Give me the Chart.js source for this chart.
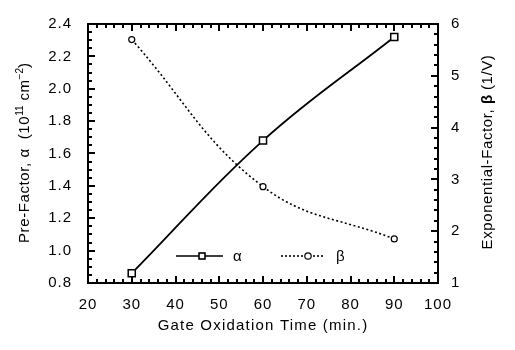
<!DOCTYPE html>
<html>
<head>
<meta charset="utf-8">
<script src="https://cdn.jsdelivr.net/npm/chart.js@4.4.1/dist/chart.umd.min.js"></script>
<style>
  html, body { margin: 0; padding: 0; background: #fff; }
  #chart { display: block; }
</style>
</head>
<body>
<canvas id="chart" width="515" height="350"></canvas>
<script>
// Datos
const times = [30, 60, 90];
const alphaVals = [0.86, 1.68, 2.32];
const betaVals = [5.70, 2.86, 1.85];

// Etiquetas de los ejes
const xTicks = [20, 30, 40, 50, 60, 70, 80, 90, 100];
const leftTicks = [0.8, 1.0, 1.2, 1.4, 1.6, 1.8, 2.0, 2.2, 2.4];
const rightTicks = [1, 2, 3, 4, 5, 6];

const FONT = "'Liberation Sans', Arial, Helvetica, sans-serif";

// Marco negro y marcas hacia dentro en los cuatro lados
const frameTicks = {
  id: "frameTicks",
  beforeDraw(chart) {
    chart.ctx.letterSpacing = "1px";
  },
  afterDatasetsDraw(chart) {
    const { ctx, chartArea: a, scales } = chart;
    ctx.save();
    ctx.strokeStyle = "#000";
    ctx.lineWidth = 2;
    ctx.strokeRect(a.left, a.top, a.right - a.left, a.bottom - a.top);

    const line = (x1, y1, x2, y2) => {
      ctx.beginPath();
      ctx.moveTo(x1, y1);
      ctx.lineTo(x2, y2);
      ctx.stroke();
    };
    const withMinor = (ticks, n) => {
      const out = [];
      for (let i = 0; i < ticks.length; i++) {
        out.push({ v: ticks[i], major: true });
        if (i < ticks.length - 1) {
          const step = (ticks[i + 1] - ticks[i]) / n;
          for (let k = 1; k < n; k++) out.push({ v: ticks[i] + step * k, major: false });
        }
      }
      return out;
    };

    withMinor(xTicks, 5).forEach((t) => {
      const x = Math.round(scales.x.getPixelForValue(t.v));
      const len = t.major ? 7 : 4;
      line(x, a.bottom, x, a.bottom - len);
      line(x, a.top, x, a.top + len);
    });
    withMinor(leftTicks, 4).forEach((t) => {
      const y = Math.round(scales.y.getPixelForValue(t.v));
      line(a.left, y, a.left + (t.major ? 7 : 4), y);
    });
    withMinor(rightTicks, 5).forEach((t) => {
      const y = Math.round(scales.y2.getPixelForValue(t.v));
      line(a.right, y, a.right - (t.major ? 7 : 4), y);
    });
    ctx.restore();
  },
  afterDraw(chart) {
    const { ctx, chartArea: a } = chart;
    ctx.save();
    ctx.fillStyle = "#000";
    ctx.strokeStyle = "#000";

    // Títulos de los ejes (con superíndices)
    const rich = (parts, cx, cy, rot) => {
      ctx.save();
      ctx.translate(cx, cy);
      ctx.rotate(rot);
      ctx.textAlign = "left";
      ctx.textBaseline = "alphabetic";
      const widths = parts.map((p) => {
        ctx.font = p.font;
        ctx.letterSpacing = "0px";
        return ctx.measureText(p.t).width + (p.ls || 0) * p.t.length;
      });
      const w = widths.reduce((s, v) => s + v, 0);
      let x = -w / 2;
      parts.forEach((p, i) => {
        ctx.font = p.font;
        ctx.letterSpacing = (p.ls || 0) + "px";
        ctx.fillText(p.t, x, p.dy || 0);
        x += widths[i];
      });
      ctx.restore();
    };
    const f15 = "15px " + FONT;
    const f10 = "10px " + FONT;
    rich([{ t: "Gate Oxidation Time (min.)", font: f15, ls: 1.2 }], (a.left + a.right) / 2, 330, 0);
    rich([
      { t: "Pre-Factor, ", font: f15, ls: 0.6 },
      { t: "α", font: f15 },
      { t: "  (10", font: f15, ls: 0.6 },
      { t: "11", font: f10, dy: -6 },
      { t: " cm", font: f15, ls: 0.6 },
      { t: "−2", font: f10, dy: -6 },
      { t: ")", font: f15 },
    ], 29, 153, -Math.PI / 2);
    rich([
      { t: "Exponential-Factor, ", font: f15, ls: 0.6 },
      { t: "β", font: "bold 15px " + FONT },
      { t: " (1/V)", font: f15, ls: 0.6 },
    ], 492, 152, -Math.PI / 2);

    // Leyenda dentro del área del gráfico
    const ly = a.bottom - 27;
    ctx.lineWidth = 1.6;
    ctx.setLineDash([]);
    ctx.beginPath(); ctx.moveTo(a.left + 88, ly); ctx.lineTo(a.left + 135, ly); ctx.stroke();
    ctx.fillStyle = "#fff";
    ctx.fillRect(a.left + 111, ly - 3, 6, 6);
    ctx.strokeRect(a.left + 111, ly - 3, 6, 6);
    ctx.setLineDash([2, 2]);
    ctx.beginPath(); ctx.moveTo(a.left + 193, ly); ctx.lineTo(a.left + 237, ly); ctx.stroke();
    ctx.setLineDash([]);
    ctx.lineWidth = 1.2;
    ctx.beginPath(); ctx.arc(a.left + 220, ly, 3.2, 0, Math.PI * 2); ctx.fill(); ctx.stroke();
    ctx.fillStyle = "#000";
    ctx.font = f15;
    ctx.letterSpacing = "0px";
    ctx.textBaseline = "middle";
    ctx.fillText("α", a.left + 145, ly + 1);
    ctx.fillText("β", a.left + 248, ly + 1);
    ctx.restore();
  },
};

const tickFont = { family: FONT, size: 15 };

new Chart(document.querySelector("#chart"), {
  type: "line",
  data: {
    datasets: [
      {
        label: "α",
        data: times.map((x, i) => ({ x, y: alphaVals[i] })),
        yAxisID: "y",
        borderColor: "#000",
        borderWidth: 1.8,
        tension: 0.4,
        pointStyle: "rect",
        pointRadius: 5,
        pointBorderWidth: 1.5,
        pointBackgroundColor: "#fff",
        pointBorderColor: "#000",
      },
      {
        label: "β",
        data: times.map((x, i) => ({ x, y: betaVals[i] })),
        yAxisID: "y2",
        borderColor: "#000",
        borderWidth: 1.6,
        borderDash: [2, 2.5],
        tension: 0.4,
        pointStyle: "circle",
        pointRadius: 3,
        pointBorderWidth: 1.2,
        pointBackgroundColor: "#fff",
        pointBorderColor: "#000",
      },
    ],
  },
  options: {
    responsive: false,
    animation: false,
    layout: { padding: { top: 24, left: 0, right: 0, bottom: 0 } },
    plugins: { legend: { display: false }, tooltip: { enabled: false } },
    scales: {
      x: {
        type: "linear",
        min: 20,
        max: 100,
        afterBuildTicks: (s) => { s.ticks = xTicks.map((v) => ({ value: v })); },
        afterFit: (s) => { s.height = 67; },
        grid: { display: false },
        border: { display: false },
        ticks: { font: tickFont, color: "#000", padding: 5, maxRotation: 0 },
      },
      y: {
        position: "left",
        min: 0.8,
        max: 2.4,
        afterBuildTicks: (s) => { s.ticks = leftTicks.map((v) => ({ value: v })); },
        afterFit: (s) => { s.width = 88; },
        grid: { display: false },
        border: { display: false },
        ticks: { font: tickFont, color: "#000", padding: 8, callback: (v) => Number(v).toFixed(1) },
      },
      y2: {
        position: "right",
        min: 1,
        max: 6,
        afterBuildTicks: (s) => { s.ticks = rightTicks.map((v) => ({ value: v })); },
        afterFit: (s) => { s.width = 77; },
        grid: { display: false },
        border: { display: false },
        ticks: { font: tickFont, color: "#000", padding: 5 },
      },
    },
  },
  plugins: [frameTicks],
});
</script>
</body>
</html>
